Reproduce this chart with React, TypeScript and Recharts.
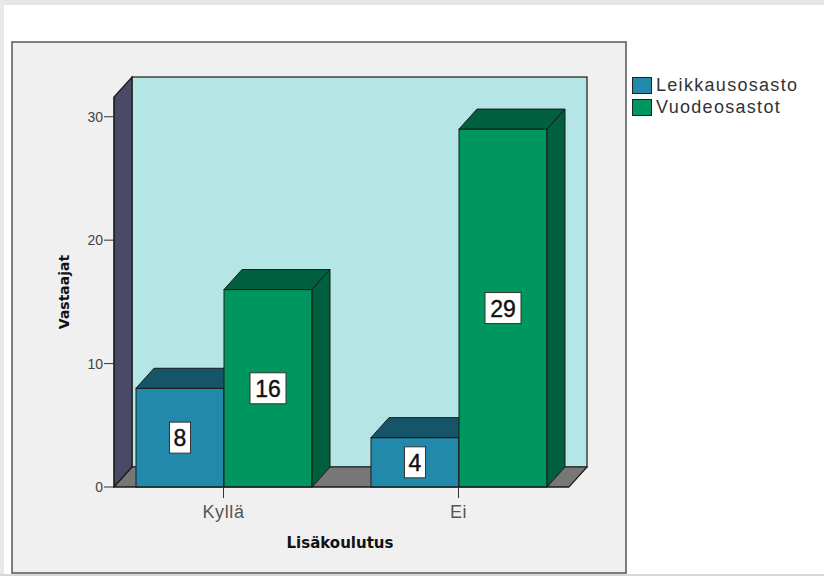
import { BarChart, Bar, XAxis, YAxis, LabelList } from "recharts";

const categories = ["Kyllä", "Ei"];
const leikkausosasto = [8, 4];
const vuodeosastot = [16, 29];
const yTicks = [0, 10, 20, 30];

const data = categories.map((name, i) => ({
  name,
  Leikkausosasto: leikkausosasto[i],
  Vuodeosastot: vuodeosastot[i],
}));

const W = 824;
const H = 576;
const Y_AXIS_W = 60;
const X_AXIS_H = 30;
// front face of the plot box
const PLOT = { left: 114, top: 97, right: 569, bottom: 487 };
const MARGIN = {
  top: PLOT.top,
  right: W - PLOT.right,
  bottom: H - PLOT.bottom - X_AXIS_H,
  left: PLOT.left - Y_AXIS_W,
};
// depth of the 3D extrusion
const DX = 18;
const DY = 20;
const SANS = "'Liberation Sans', Arial, sans-serif";
const BOLD = "'DejaVu Sans', Verdana, sans-serif";

const SERIES = {
  Leikkausosasto: { front: "#2389ab", top: "#165468", side: "#125068" },
  Vuodeosastot: { front: "#00965f", top: "#00603f", side: "#005f3e" },
};

function makeBox(colors: { front: string; top: string; side: string }) {
  return (props: any) => {
    const { x, y, width: w, height: h } = props;
    if (w == null || h == null) return null;
    const stroke = "#1a1a1a";
    return (
      <g>
        <rect x={x} y={y} width={w} height={h} fill={colors.front} stroke={stroke} strokeWidth={1} />
        <polygon
          points={`${x},${y} ${x + DX},${y - DY} ${x + w + DX},${y - DY} ${x + w},${y}`}
          fill={colors.top}
          stroke={stroke}
          strokeWidth={1}
        />
        <polygon
          points={`${x + w},${y} ${x + w + DX},${y - DY} ${x + w + DX},${y + h - DY} ${x + w},${y + h}`}
          fill={colors.side}
          stroke={stroke}
          strokeWidth={1}
        />
      </g>
    );
  };
}

function ValueBox(props: any) {
  const { x, y, width, height, value } = props;
  const text = String(value);
  const bw = text.length > 1 ? 36 : 21;
  const bh = 31;
  const cx = x + width / 2;
  const cy = y + height / 2;
  return (
    <g>
      <rect x={cx - bw / 2} y={cy - bh / 2} width={bw} height={bh} fill="#ffffff" stroke="#333" strokeWidth={1} />
      <text x={cx} y={cy + 8.5} textAnchor="middle" fontSize={23} fontFamily={SANS} stroke="#111" strokeWidth={0.4} fill="#111">
        {text}
      </text>
    </g>
  );
}

function LegendBox() {
  return (
    <div style={{ fontFamily: SANS, fontSize: 18, letterSpacing: 1.3, color: "#333", lineHeight: "22px" }}>
      {(["Leikkausosasto", "Vuodeosastot"] as const).map((k) => (
        <div key={k} style={{ display: "flex", alignItems: "center" }}>
          <span
            style={{
              display: "inline-block",
              width: 18,
              height: 15,
              background: SERIES[k].front,
              border: "1px solid #222",
              marginRight: 4,
            }}
          />
          {k}
        </div>
      ))}
    </div>
  );
}

// frame, walls and floor behind the bars
function Backdrop() {
  const { left, right, top, bottom } = PLOT;
  return (
    <svg width={W} height={H} style={{ position: "absolute", left: 0, top: 0 }}>
      <rect x={0} y={0} width={W} height={H} fill="#ffffff" />
      <rect x={0} y={0} width={W} height={5} fill="#e6e6e6" />
      <rect x={0} y={0} width={4} height={H} fill="#e9e9e9" />
      <rect x={12} y={42} width={614} height={531} fill="#f0f0f0" stroke="#555" strokeWidth={1.5} />
      <rect x={0} y={574} width={W} height={2} fill="#d8d8d8" />
      <rect
        x={left + DX}
        y={top - DY}
        width={right - left}
        height={bottom - top}
        fill="#b5e6e6"
        stroke="#1a1a1a"
        strokeWidth={1.2}
      />
      <polygon
        points={`${left},${top} ${left + DX},${top - DY} ${left + DX},${bottom - DY} ${left},${bottom}`}
        fill="#4a4a66"
        stroke="#1a1a1a"
        strokeWidth={1.2}
      />
      <polygon
        points={`${left},${bottom} ${left + DX},${bottom - DY} ${right + DX},${bottom - DY} ${right},${bottom}`}
        fill="#777777"
        stroke="#1a1a1a"
        strokeWidth={1.2}
      />
      <text
        x={65}
        y={292}
        transform="rotate(-90 65 292)"
        textAnchor="middle"
        dominantBaseline="middle"
        fontFamily={BOLD}
        fontWeight="bold"
        fontSize={14}
        fill="#111"
      >
        Vastaajat
      </text>
      <text x={340} y={548} textAnchor="middle" fontFamily={BOLD} fontWeight="bold" fontSize={15} fill="#111">
        Lisäkoulutus
      </text>
    </svg>
  );
}

export default function App() {
  return (
    <div style={{ position: "absolute", left: 0, top: 0, width: W, height: H, overflow: "hidden" }}>
      <Backdrop />
      <div style={{ position: "absolute", left: 0, top: 0 }}>
        <BarChart width={W} height={H} data={data} margin={MARGIN} barCategoryGap={30} barGap={0}>
          <XAxis
            dataKey="name"
            height={X_AXIS_H}
            padding={{ left: -8, right: -7 }}
            tickSize={11}
            tickMargin={7}
            tick={{ fill: "#555", fontSize: 18, fontFamily: SANS, letterSpacing: 0.6 }}
            axisLine={{ stroke: "#1a1a1a" }}
            tickLine={{ stroke: "#333" }}
          />
          <YAxis
            width={Y_AXIS_W}
            domain={[0, 31.6]}
            ticks={yTicks}
            tickSize={10}
            tickMargin={1}
            tick={{ fill: "#444", fontSize: 14, fontFamily: SANS }}
            axisLine={{ stroke: "#1a1a1a" }}
            tickLine={{ stroke: "#333" }}
          />
          <Bar dataKey="Leikkausosasto" isAnimationActive={false} shape={makeBox(SERIES.Leikkausosasto)}>
            <LabelList dataKey="Leikkausosasto" content={<ValueBox />} />
          </Bar>
          <Bar dataKey="Vuodeosastot" isAnimationActive={false} shape={makeBox(SERIES.Vuodeosastot)}>
            <LabelList dataKey="Vuodeosastot" content={<ValueBox />} />
          </Bar>
        </BarChart>
      </div>
      <div style={{ position: "absolute", left: 632, top: 74, width: 190 }}>
        <LegendBox />
      </div>
    </div>
  );
}
